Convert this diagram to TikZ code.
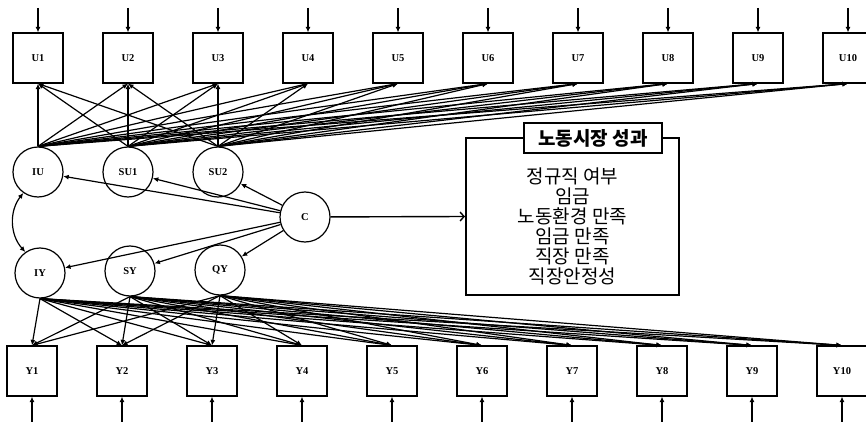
\documentclass[tikz,border=0pt]{standalone}
\usepackage{fontspec}
\setmainfont{Liberation Serif}
\newfontfamily\krfont{Noto Sans CJK KR}
\usetikzlibrary{arrows.meta}
\begin{document}
\begin{tikzpicture}[x=1pt,y=-1pt,
  obs/.style={draw, line width=1.2pt, minimum width=50pt, minimum height=50pt, inner sep=0pt,
    font=\fontsize{10.5}{12}\selectfont\bfseries},
  lat/.style={draw, circle, line width=1.2pt, minimum size=50pt, inner sep=0pt,
    font=\fontsize{10.5}{12}\selectfont\bfseries},
  pth/.style={line width=1.2pt, -{Latex[length=5.5pt,width=5pt]}},
  outbox/.style={draw, line width=2pt, minimum width=213pt, minimum height=157pt, inner sep=0pt},
  titlebox/.style={draw, line width=2pt, fill=white, minimum width=138pt, minimum height=30pt, inner sep=0pt,
    font=\krfont\fontsize{19}{20}\selectfont\bfseries},
  outtext/.style={align=center, inner sep=0pt, font=\krfont\fontsize{19}{20}\selectfont}
]
\useasboundingbox (0,0) rectangle (866,422);
% observed indicators
\foreach \i in {1,...,10} {
  \pgfmathsetmacro\ux{38+90*(\i-1)}
  \node[obs] (U\i) at (\ux,58) {U\i};
  \coordinate (eu\i) at (\ux,8);
  \draw[pth] (eu\i) -- (U\i);
  \pgfmathsetmacro\yx{32+90*(\i-1)}
  \node[obs] (Y\i) at (\yx,371) {Y\i};
  \coordinate (ey\i) at (\yx,422);
  \draw[pth] (ey\i) -- (Y\i);
}
% latent factors
\node[lat] (IU) at (38,172) {IU};
\node[lat] (SU1) at (128,172) {SU1};
\node[lat] (SU2) at (218,172) {SU2};
\node[lat] (C) at (305,217) {C};
\node[lat] (IY) at (40,273) {IY};
\node[lat] (SY) at (130,271) {SY};
\node[lat] (QY) at (220,270) {QY};
% loadings
\foreach \f in {IU,SU1,SU2} {
  \foreach \i in {1,...,10} { \draw[pth] (\f.north) -- (U\i.south); }
}
\foreach \f in {IY,SY,QY} {
  \foreach \i in {1,...,10} { \draw[pth] (\f.south) -- (Y\i.north); }
}
% covariate paths
\foreach \t in {IU,SU1,SU2,IY,SY,QY} { \draw[pth] (C) -- (\t); }
\draw[line width=1.2pt, {Latex[length=5.5pt,width=5pt]}-{Latex[length=5.5pt,width=5pt]}]
  (IU.235) to[bend right=40] (IY.125);
% outcome box
\node[outbox] (box) at (572.5,216.5) {};
\node[titlebox] (title) at (593,138) {노동시장 성과};
\node[outtext] (outs) at (572.5,226) {정규직 여부\\임금\\노동환경 만족\\임금 만족\\직장 만족\\직장안정성};
\draw[line width=1.4pt, -{Straight Barb[length=4pt,width=9pt]}] (C) -- (box.west);
\end{tikzpicture}
\end{document}
